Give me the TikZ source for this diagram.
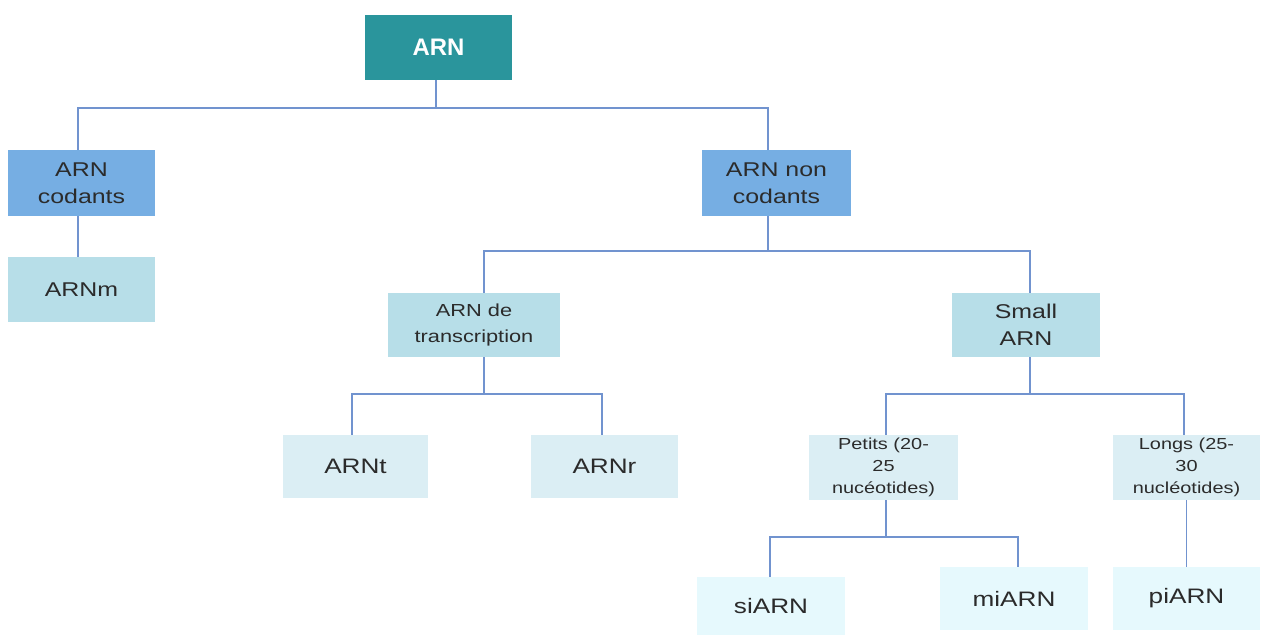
\documentclass[tikz,border=0pt]{standalone}
\usepackage{fontspec}
\setmainfont{Liberation Sans}[FakeStretch=1.25]
\newfontfamily\titlefont{Liberation Sans}
\definecolor{teal0}{HTML}{2A959C}
\definecolor{blue1}{HTML}{76AEE3}
\definecolor{blue2}{HTML}{B7DEE8}
\definecolor{blue3}{HTML}{DBEEF4}
\definecolor{blue4}{HTML}{E6F9FD}
\definecolor{link}{HTML}{7193CF}
\definecolor{ink}{HTML}{2B2B2B}
\tikzset{
  box/.style={inner sep=0pt, align=center, text=ink, minimum width=147bp, minimum height=64bp},
  lvA/.style={box, fill=blue1, font=\fontsize{20}{27}\selectfont},
  lvB/.style={box, fill=blue2, font=\fontsize{20}{27}\selectfont},
  lvC/.style={box, fill=blue3, font=\fontsize{21}{24}\selectfont},
  lvS/.style={box, fill=blue3, font=\fontsize{16}{22}\selectfont},
  leaf/.style={box, fill=blue4, font=\fontsize{21}{24}\selectfont},
  link/.style={draw=link, line width=1.6bp}
}
\begin{document}
\begin{tikzpicture}[x=1bp, y=-1bp]
\useasboundingbox[fill=white] (0,0) rectangle (1262,635);

% boxes
\node[box, fill=teal0, text=white, minimum height=65bp, font=\titlefont\fontsize{24}{28}\selectfont\bfseries] (arn) at (438.5,47.5) {ARN};
\node[lvA, minimum height=66bp] (cod) at (81.5,183) {ARN\\codants};
\node[lvA, minimum width=149bp, minimum height=66bp] (ncod) at (776.5,183) {ARN non\\codants};
\node[lvB, minimum height=65bp] (mrna) at (81.5,289.5) {ARNm};
\node[lvB, minimum width=172bp, font=\fontsize{17.5}{26}\selectfont] (trans) at (474,325) {ARN de\\transcription};
\node[lvB, minimum width=148bp] (small) at (1026,325) {Small\\ARN};
\node[lvC, minimum width=145bp, minimum height=63bp] (arnt) at (355.5,466.5) {ARNt};
\node[lvC, minimum height=63bp] (arnr) at (604.5,466.5) {ARNr};
\node[lvS, minimum width=149bp, minimum height=65bp] (pet) at (883.5,467.5) {Petits (20-\\25\\nucéotides)};
\node[lvS, minimum height=65bp] (lon) at (1186.5,467.5) {Longs (25-\\30\\nucléotides)};
\node[leaf, minimum width=148bp, minimum height=58bp] (si) at (771,606) {siARN};
\node[leaf, minimum width=148bp, minimum height=63bp] (mi) at (1014,598.5) {miARN};
\node[leaf, minimum height=63bp] (pi) at (1186.5,598.5) {piARN};

% junctions of the tree
\coordinate (j0) at (436,108);
\coordinate (j1) at (768,251);
\coordinate (j2) at (484,394);
\coordinate (j3) at (1030,394);
\coordinate (j4) at (886,537);

% connectors
\draw[link] (arn.south -| j0) -- (j0) -| ([xshift=-3.5bp]cod.north);
\draw[link] (j0) -| ([xshift=-8.5bp]ncod.north);
\draw[link] ([xshift=-3.5bp]cod.south) -- ([xshift=-3.5bp]mrna.north);
\draw[link] (ncod.south -| j1) -- (j1) -| (trans.north -| j2);
\draw[link] (j1) -| (small.north -| j3);
\draw[link] (trans.south -| j2) -- (j2) -| ([xshift=-3.5bp]arnt.north);
\draw[link] (j2) -| ([xshift=-2.5bp]arnr.north);
\draw[link] (small.south -| j3) -- (j3) -| (pet.north -| j4);
\draw[link] (j3) -| ([xshift=-2.5bp]lon.north);
\draw[link] (pet.south -| j4) -- (j4) -| ([xshift=-1bp]si.north);
\draw[link] (j4) -| ([xshift=4bp]mi.north);
\draw[link] (lon.south -| pi.north) -- (pi.north);
\end{tikzpicture}
\end{document}
